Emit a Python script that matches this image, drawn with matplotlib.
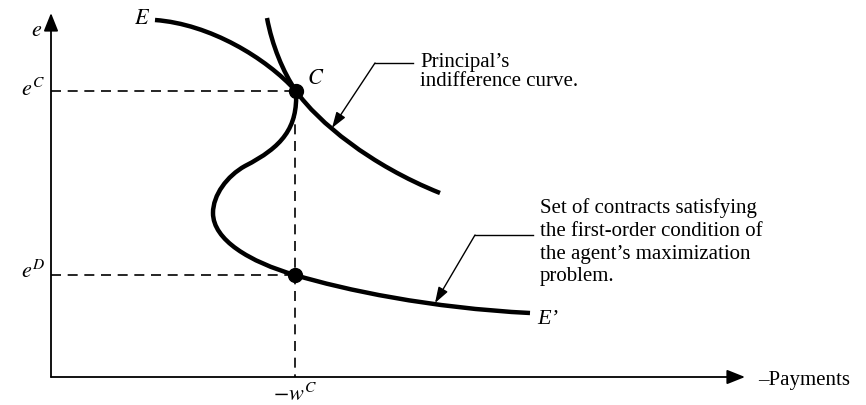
import matplotlib
matplotlib.use("Agg")
import matplotlib.pyplot as plt
from matplotlib.path import Path
from matplotlib.patches import PathPatch

plt.rcParams['font.family'] = ['Liberation Serif', 'DejaVu Serif']
plt.rcParams['mathtext.fontset'] = 'stix'

# diagram coordinates (canvas units, y grows downwards)
origin = (51, 377)
x_axis_end = 745
y_axis_end = 13

# E-E' curve: chain of cubic bezier segments (start, ctrl, ctrl, end, ctrl, ctrl, end, ...)
ee_x = [155, 210, 266, 296, 298, 282, 245, 227, 213, 213, 213, 250, 295, 345, 430, 530]
ee_y = [20, 24, 58, 91, 128, 147, 166, 176, 195, 213, 240, 262, 275, 290, 308, 313]

# principal's indifference curve
ic_x = [267, 272, 283, 296, 318, 370, 440]
ic_y = [18, 45, 72, 91, 122, 165, 193]

point_c = (296, 91)
point_d = (295, 275)
w_c = 295

fig = plt.figure(figsize=(8.66, 4.05), dpi=100)
ax = fig.add_axes([0, 0, 1, 1])
ax.set_xlim(0, 866)
ax.set_ylim(405, 0)
ax.axis('off')


def bezier(xs, ys):
    codes = [Path.MOVETO] + [Path.CURVE4] * (len(xs) - 1)
    return Path(list(zip(xs, ys)), codes)


ax.add_patch(PathPatch(bezier(ee_x, ee_y), fill=False, lw=3.2, color='black', capstyle='butt'))
ax.add_patch(PathPatch(bezier(ic_x, ic_y), fill=False, lw=3.2, color='black', capstyle='butt'))

# axes with arrows
ax.annotate('', xy=(origin[0], y_axis_end), xytext=origin,
            arrowprops=dict(arrowstyle='-|>,head_length=0.5,head_width=0.2', lw=1.3,
                            color='black', mutation_scale=22, shrinkA=0, shrinkB=0))
ax.annotate('', xy=(x_axis_end, origin[1]), xytext=origin,
            arrowprops=dict(arrowstyle='-|>,head_length=0.5,head_width=0.2', lw=1.3,
                            color='black', mutation_scale=22, shrinkA=0, shrinkB=0))

# dashed guide lines
dash = dict(color='black', lw=1.2, ls=(0, (6, 4)))
ax.plot([origin[0], point_c[0]], [point_c[1], point_c[1]], **dash)
ax.plot([origin[0], point_d[0]], [point_d[1], point_d[1]], **dash)
ax.plot([w_c, w_c], [point_c[1], origin[1]], **dash)

ax.plot(*point_c, 'o', color='black', ms=10)
ax.plot(*point_d, 'o', color='black', ms=10)

# labels
ax.text(42, 32, r'$e$', fontsize=16, ha='right', va='center')
ax.text(45, 90, r'$e^C$', fontsize=16, ha='right', va='center')
ax.text(45, 272, r'$e^D$', fontsize=16, ha='right', va='center')
ax.text(w_c, 395, r'$-w^C$', fontsize=16, ha='center', va='center')
ax.text(150, 20, r'$E$', fontsize=16, ha='right', va='center')
ax.text(307, 80, r'$C$', fontsize=16, ha='left', va='center')
ax.text(537, 320, "E\u2019", fontsize=16, style='italic', ha='left', va='center')
ax.text(758, 381, '\u2013Payments', fontsize=15, ha='left', va='center')

# leader for indifference curve
ax.plot([375, 413], [63, 63], color='black', lw=1.0)
ax.annotate('', xy=(332, 128), xytext=(375, 63),
            arrowprops=dict(arrowstyle='-|>,head_length=0.6,head_width=0.2', lw=1.0,
                            color='black', mutation_scale=16, shrinkA=0, shrinkB=0))
ax.text(420, 62, "Principal\u2019s", fontsize=15, ha='left', va='center')
ax.text(420, 82, "indifference curve.", fontsize=15, ha='left', va='center')

# leader for first-order condition set
ax.plot([475, 533], [235, 235], color='black', lw=1.0)
ax.annotate('', xy=(435, 303), xytext=(475, 235),
            arrowprops=dict(arrowstyle='-|>,head_length=0.6,head_width=0.2', lw=1.0,
                            color='black', mutation_scale=16, shrinkA=0, shrinkB=0))
foc_lines = ["Set of contracts satisfying", "the first-order condition of",
             "the agent\u2019s maximization", "problem."]
for i, line in enumerate(foc_lines):
    ax.text(540, 208 + 23 * i, line, fontsize=15, ha='left', va='center')

fig.savefig('out.png', dpi=100)
